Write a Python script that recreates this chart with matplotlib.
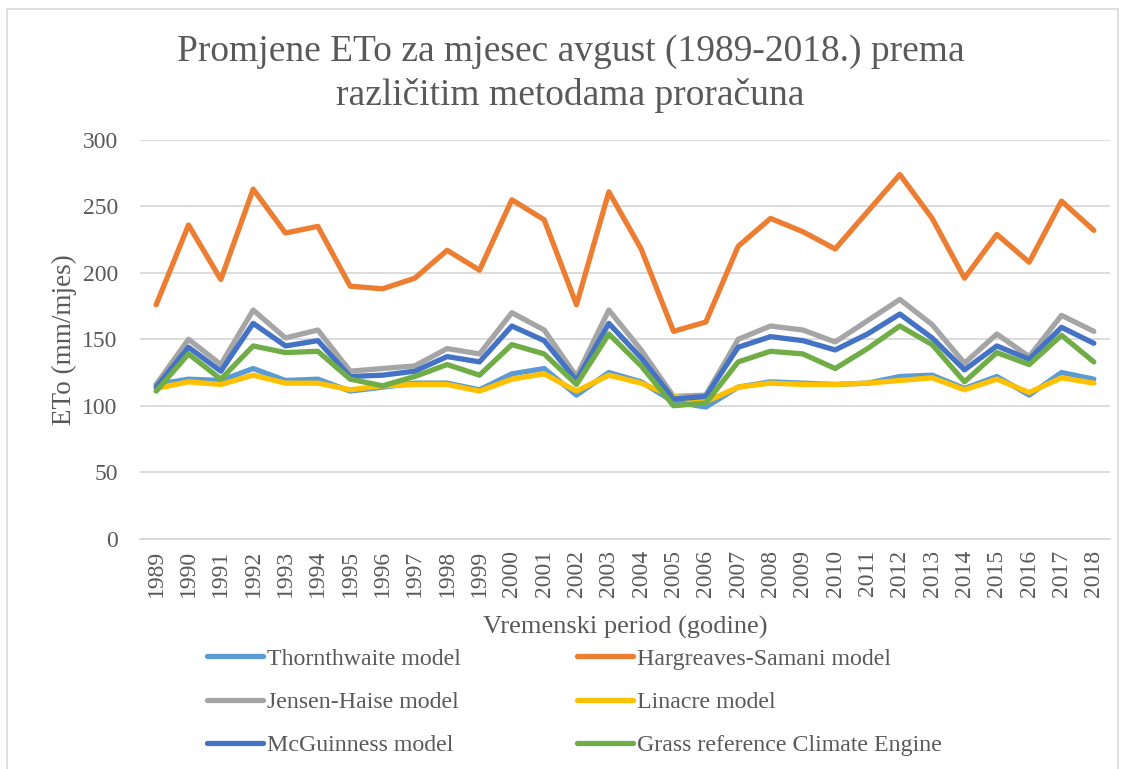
import matplotlib.pyplot as plt
from matplotlib.patches import Rectangle

# Data (ETo, mm/month, August)
years = [str(y) for y in range(1989, 2019)]

thornthwaite = [116, 120, 119, 128, 119, 120, 111, 114, 117, 117, 112, 124, 128, 108, 125,
                118, 103, 99, 114, 118, 117, 116, 117, 122, 123, 113, 122, 108, 125, 120]
hargreaves = [176, 236, 195, 263, 230, 235, 190, 188, 196, 217, 202, 255, 240, 176, 261,
              218, 156, 163, 220, 241, 231, 218, 246, 274, 241, 196, 229, 208, 254, 232]
jensen = [116, 150, 131, 172, 151, 157, 126, 128, 130, 143, 139, 170, 157, 122, 172,
          142, 107, 108, 150, 160, 157, 148, 164, 180, 161, 132, 154, 137, 168, 156]
linacre = [113, 118, 116, 123, 117, 117, 112, 115, 116, 116, 111, 120, 124, 111, 123,
           117, 107, 103, 114, 117, 116, 116, 117, 119, 121, 112, 120, 110, 121, 117]
mcguinness = [114, 144, 126, 162, 145, 149, 122, 123, 126, 137, 133, 160, 149, 119, 162,
              136, 105, 107, 144, 152, 149, 142, 154, 169, 151, 127, 145, 135, 159, 147]
grass = [111, 139, 120, 145, 140, 141, 120, 115, 122, 131, 123, 146, 139, 116, 154,
         130, 100, 102, 133, 141, 139, 128, 143, 160, 146, 118, 140, 131, 153, 133]

series = [
    ('Thornthwaite model', thornthwaite, '#5B9BD5'),
    ('Hargreaves-Samani model', hargreaves, '#ED7D31'),
    ('Jensen-Haise model', jensen, '#A5A5A5'),
    ('Linacre model', linacre, '#FFC000'),
    ('McGuinness model', mcguinness, '#4472C4'),
    ('Grass reference Climate Engine', grass, '#70AD47'),
]

plt.rcParams['font.family'] = ['Liberation Serif', 'DejaVu Serif']
txt = '#595959'

fig = plt.figure(figsize=(11.25, 7.69), dpi=100)
ax = fig.add_axes([140 / 1125, 230.4 / 769, 970 / 1125, 398.6 / 769])

x = list(range(len(years)))
lines = {}
for name, vals, col in series:
    ln, = ax.plot(x, vals, color=col, lw=3.8, solid_joinstyle='round', solid_capstyle='round', label=name)
    lines[name] = ln

ax.set_xlim(-0.5, len(years) - 0.5)
ax.set_ylim(0, 300)
ax.set_yticks(range(0, 301, 50))
ax.set_xticks(x)
ax.set_xticklabels(years, rotation=90)
ax.tick_params(axis='both', length=0, labelsize=17, colors=txt)
ax.tick_params(axis='y', pad=16)
ax.tick_params(axis='x', pad=8)
ax.grid(axis='y', color='#D9D9D9', lw=1.3)
ax.set_axisbelow(True)
for s in ['top', 'right', 'left']:
    ax.spines[s].set_visible(False)
ax.spines['bottom'].set_color('#D9D9D9')
ax.spines['bottom'].set_linewidth(1.3)

ax.set_ylabel('ETo (mm/mjes)', fontsize=19.5, color=txt, labelpad=4)
ax.set_xlabel('Vremenski period (godine)', fontsize=19, color=txt, labelpad=14)

fig.text(0.507, 0.904, 'Promjene ETo za mjesec avgust (1989-2018.) prema\nrazličitim metodama proračuna',
         ha='center', va='center', fontsize=27, color=txt, linespacing=1.32)

# two legend columns, Excel style (row-wise order)
cols = [(['Thornthwaite model', 'Jensen-Haise model', 'McGuinness model'], 207),
        (['Hargreaves-Samani model', 'Linacre model', 'Grass reference Climate Engine'], 577)]
for names, xpix in cols:
    leg = fig.legend([lines[n] for n in names], names, loc='upper left',
                     bbox_to_anchor=(xpix / 1125, 1 - 648 / 769), frameon=False,
                     fontsize=17.2, handlelength=2.35, handletextpad=0.17,
                     labelspacing=0.9, borderaxespad=0, borderpad=0)
    for t in leg.get_texts():
        t.set_color(txt)

fig.patches.append(Rectangle((7 / 1125, -0.05), 1111 / 1125, 1.05 - 9 / 769, transform=fig.transFigure,
                             fill=False, edgecolor='#D9D9D9', lw=1.2))

fig.savefig('out.png', dpi=100)
